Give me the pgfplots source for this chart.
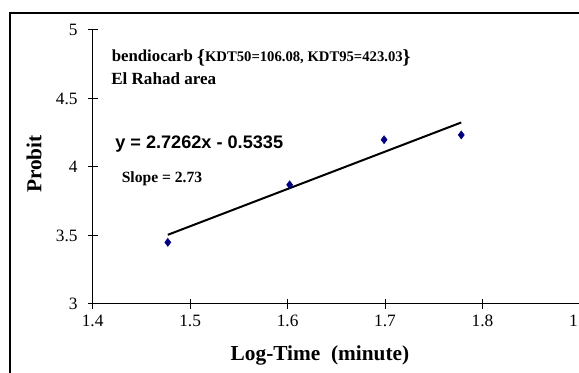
\documentclass[border=0pt]{standalone}
\usepackage{fontspec}
\setmainfont{Liberation Serif}
\newfontfamily\arialfont{Liberation Sans}
\usepackage{pgfplots}
\pgfplotsset{compat=1.18}
\begin{document}
\begin{tikzpicture}[x=0.75pt,y=0.75pt]
\path[use as bounding box, clip] (0,0) rectangle (579,373);
\fill[white] (0,0) rectangle (579,373);
\draw[line width=1pt] (10,360) rectangle (620,-20);
\begin{axis}[
  at={(69.5pt,51.75pt)}, anchor=south west,
  scale only axis, width=365.5pt, height=205.5pt,
  xmin=1.4, xmax=1.9, ymin=3, ymax=5,
  axis x line*=bottom, axis y line*=left,
  axis line style={-, line width=0.75pt},
  xtick={1.4,1.5,1.6,1.7,1.8,1.9},
  ytick={3,3.5,4,4.5,5},
  xticklabels={1.4,1.5,1.6,1.7,1.8,1.9},
  yticklabels={3,3.5,4,4.5,5},
  tick align=center, major tick length=7.5pt,
  tick style={line width=0.75pt, black},
  tick label style={font=\fontsize{13}{15}\selectfont},
  xticklabel style={yshift=-1pt},
  yticklabel style={xshift=-4pt},
  clip=false,
]
\addplot[only marks, mark=diamond*, mark size=3pt, color={rgb,255:red,0;green,0;blue,128}]
  coordinates {(1.4771,3.45) (1.6021,3.87) (1.6990,4.199) (1.7782,4.234)};
\addplot[black, line width=1.5pt] coordinates {(1.4771,3.505) (1.7782,4.325)};
\end{axis}
\node[rotate=90, font=\fontsize{16}{18}\selectfont\bfseries] at (34,209) {Probit};
\node[font=\fontsize{16}{18}\selectfont\bfseries] at (320,18) {Log-Time\ \ (minute)};
\node[anchor=base west, inner sep=0pt, font=\fontsize{12.6}{14}\selectfont\bfseries] at (111.5,311) {bendiocarb \raisebox{-1.5pt}{\fontsize{15}{16}\selectfont\{}{\fontsize{11}{12}\selectfont KDT50=106.08, KDT95=423.03}\raisebox{-1.5pt}{\fontsize{15}{16}\selectfont\}}};
\node[anchor=base west, inner sep=0pt, font=\fontsize{12.8}{14}\selectfont\bfseries] at (111,288) {El Rahad area};
\node[anchor=base west, inner sep=0pt, font=\arialfont\fontsize{13.6}{15}\selectfont\bfseries] at (115,224) {y = 2.7262x - 0.5335};
\node[anchor=base west, inner sep=0pt, font=\fontsize{11.7}{13}\selectfont\bfseries] at (121.5,190) {Slope = 2.73};
\end{tikzpicture}
\end{document}
